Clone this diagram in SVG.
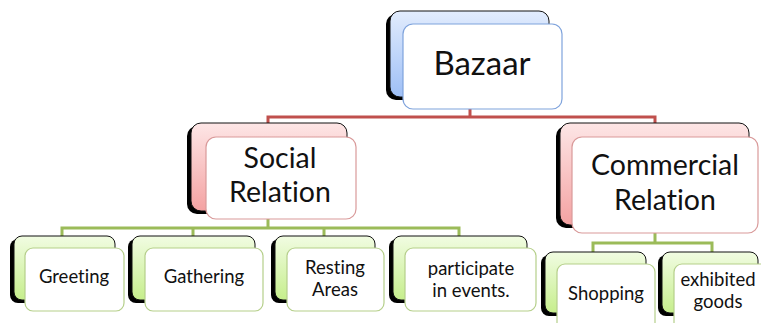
<svg xmlns="http://www.w3.org/2000/svg" width="761" height="323" viewBox="0 0 761 323">
<defs>
<linearGradient id="gBlue" x1="0" y1="0" x2="0" y2="1"><stop offset="0" stop-color="#e2ecfd"/><stop offset="1" stop-color="#9ebff6"/></linearGradient>
<linearGradient id="gPink" x1="0" y1="0" x2="0" y2="1"><stop offset="0" stop-color="#fde6e6"/><stop offset="1" stop-color="#f4a2a2"/></linearGradient>
<linearGradient id="gGreen" x1="0" y1="0" x2="0" y2="1"><stop offset="0" stop-color="#f1fce2"/><stop offset="1" stop-color="#c6ee8c"/></linearGradient>
</defs>
<style>
.sh{fill:#000}
.bb{fill:url(#gBlue);stroke:#111;stroke-width:1}
.bp{fill:url(#gPink);stroke:#111;stroke-width:1}
.bg{fill:url(#gGreen);stroke:#111;stroke-width:1}
.fb{fill:#fff;stroke:#7fa3dc;stroke-width:1.2}
.fp{fill:#fff;stroke:#d99a9a;stroke-width:1.2}
.fg{fill:#fff;stroke:#b5cf8a;stroke-width:1.2}
.red{fill:none;stroke:#c0504d;stroke-width:3}
.grn{fill:none;stroke:#9bbb59;stroke-width:3}
text{font-family:Lato,"Liberation Sans",sans-serif;fill:#111;text-anchor:middle;font-variant-ligatures:none}
.t1{font-size:33px}
.t2{font-size:28.5px}
.t3{font-size:18.5px}
</style>
<rect width="761" height="323" fill="#fff"/>
<g id="connectors">
<path class="red" d="M470,109 V117 M268,137 V117 H655 V137"/>
<path class="grn" d="M268,219 V228 M62,237 V228 H459 V237 M193,228 V237 M324,228 V237"/>
<path class="grn" d="M655,233 V243 M593,252 V243 H712 V252"/>
</g>
<g id="bazaar">
<rect class="sh" x="386" y="14" width="160" height="86" rx="10"/>
<rect class="bb" x="390" y="11" width="159" height="86" rx="10"/>
<rect class="fb" x="403" y="24" width="159" height="85" rx="10"/>
<text class="t1" x="482" y="75">Bazaar</text>
</g>
<g id="social">
<rect class="sh" x="187" y="126" width="158" height="88" rx="10"/>
<rect class="bp" x="191" y="123" width="156" height="88" rx="10"/>
<rect class="fp" x="206" y="137" width="150" height="82" rx="10"/>
<text class="t2" x="280" y="168">Social</text>
<text class="t2" x="280" y="202">Relation</text>
</g>
<g id="commercial">
<rect class="sh" x="556" y="126" width="190" height="102" rx="10"/>
<rect class="bp" x="560" y="123" width="189" height="102" rx="10"/>
<rect class="fp" x="572" y="137" width="186" height="96" rx="10"/>
<text class="t2" x="665" y="175">Commercial</text>
<text class="t2" x="665" y="210">Relation</text>
</g>
<g id="greeting">
<rect class="sh" x="10" y="239" width="102" height="64" rx="8"/>
<rect class="bg" x="14" y="236" width="101" height="64" rx="8"/>
<rect class="fg" x="25" y="248" width="99" height="63" rx="8"/>
<text class="t3" x="74" y="283">Greeting</text>
</g>
<g id="gathering">
<rect class="sh" x="128" y="239" width="124" height="64" rx="8"/>
<rect class="bg" x="132" y="236" width="123" height="64" rx="8"/>
<rect class="fg" x="145" y="248" width="118" height="63" rx="8"/>
<text class="t3" x="204" y="283">Gathering</text>
</g>
<g id="resting">
<rect class="sh" x="271" y="239" width="101" height="64" rx="8"/>
<rect class="bg" x="275" y="236" width="100" height="64" rx="8"/>
<rect class="fg" x="287" y="248" width="97" height="63" rx="8"/>
<text class="t3" x="335" y="274">Resting</text>
<text class="t3" x="335" y="296">Areas</text>
</g>
<g id="participate">
<rect class="sh" x="389" y="239" width="135" height="64" rx="8"/>
<rect class="bg" x="393" y="236" width="134" height="64" rx="8"/>
<rect class="fg" x="405" y="248" width="131" height="63" rx="8"/>
<text class="t3" x="471" y="275">participate</text>
<text class="t3" x="471" y="297">in events.</text>
</g>
<g id="shopping">
<rect class="sh" x="541" y="255" width="102" height="61" rx="8"/>
<rect class="bg" x="545" y="252" width="101" height="61" rx="8"/>
<rect class="fg" x="557" y="264" width="98" height="70" rx="8"/>
<text class="t3" x="606" y="300">Shopping</text>
</g>
<g id="exhibited">
<rect class="sh" x="658" y="255" width="97" height="61" rx="8"/>
<rect class="bg" x="662" y="252" width="96" height="61" rx="8"/>
<rect class="fg" x="674" y="264" width="96" height="70" rx="8"/>
<text class="t3" x="718" y="286">exhibited</text>
<text class="t3" x="718" y="308">goods</text>
</g>
</svg>
